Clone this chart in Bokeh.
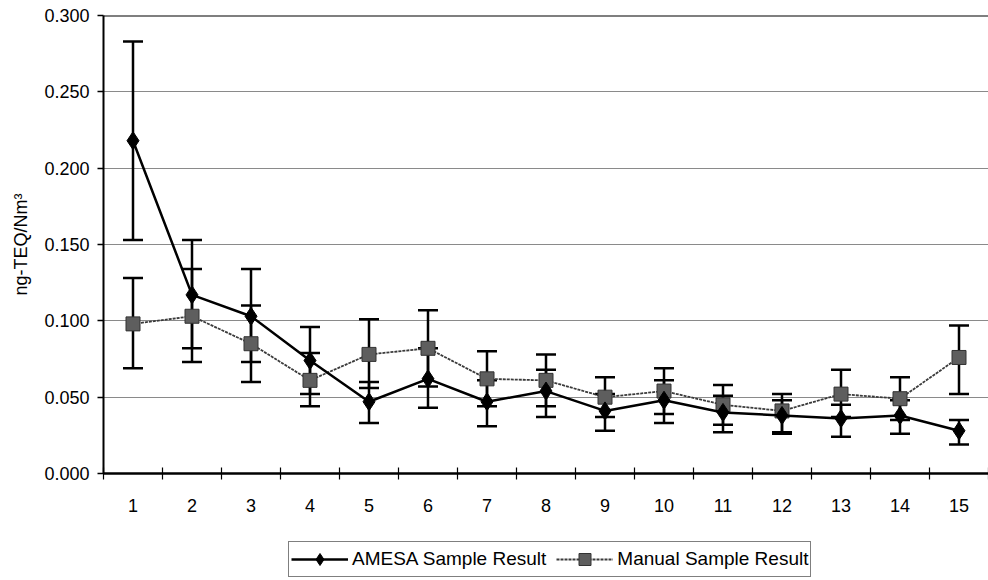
from bokeh.plotting import figure
from bokeh.layouts import column
from bokeh.models import (ColumnDataSource, Whisker, TeeHead, FixedTicker, Legend, LegendItem,
                          Range1d, NumeralTickFormatter, Span)
from bokeh.embed import file_html
from bokeh.resources import INLINE

samples = list(range(1, 16))
x_labels = [str(s) for s in samples]
amesa = [0.218, 0.117, 0.103, 0.074, 0.047, 0.062, 0.047, 0.054, 0.041, 0.048, 0.040, 0.038, 0.036, 0.038, 0.028]
amesa_upper = [0.283, 0.153, 0.134, 0.096, 0.060, 0.082, 0.061, 0.068, 0.052, 0.061, 0.051, 0.048, 0.045, 0.048, 0.035]
amesa_lower = [0.153, 0.082, 0.073, 0.052, 0.033, 0.043, 0.031, 0.037, 0.028, 0.033, 0.027, 0.026, 0.024, 0.026, 0.019]
manual = [0.098, 0.103, 0.085, 0.061, 0.078, 0.082, 0.062, 0.061, 0.050, 0.054, 0.045, 0.041, 0.052, 0.049, 0.076]
manual_upper = [0.128, 0.134, 0.110, 0.079, 0.101, 0.107, 0.080, 0.078, 0.063, 0.069, 0.058, 0.052, 0.068, 0.063, 0.097]
manual_lower = [0.069, 0.073, 0.060, 0.044, 0.056, 0.057, 0.044, 0.044, 0.037, 0.039, 0.032, 0.027, 0.037, 0.035, 0.052]
y_ticks = [0.0, 0.05, 0.10, 0.15, 0.20, 0.25, 0.30]
series_names = ["AMESA Sample Result", "Manual Sample Result"]

FONT = "Liberation Sans"
MAN_LINE = dict(line_color="#3a3a3a", line_width=1.8, line_dash="3 1")
MAN_MARK = dict(marker="square", fill_color="#5e5e5e", line_color="#333333", line_width=1)
AM_LINE = dict(line_color="black", line_width=2.5)
AM_MARK = dict(marker="diamond", fill_color="black", line_color="black")

src_a = ColumnDataSource(dict(x=samples, y=amesa, up=amesa_upper, lo=amesa_lower))
src_m = ColumnDataSource(dict(x=samples, y=manual, up=manual_upper, lo=manual_lower))

p = figure(width=988, height=519, output_backend="svg", toolbar_location=None,
           x_range=Range1d(0.5, 15.5), y_range=Range1d(0, 0.3),
           min_border_left=103, min_border_top=15, min_border_right=0, min_border_bottom=46)
p.outline_line_color = None
p.background_fill_color = "white"
p.border_fill_color = "white"

# grid
p.xgrid.grid_line_color = None
p.ygrid.grid_line_color = "#8a8a8a"
p.ygrid.grid_line_width = 1
p.ygrid.ticker = FixedTicker(ticks=y_ticks)

# y axis
p.yaxis.ticker = FixedTicker(ticks=y_ticks)
p.yaxis.formatter = NumeralTickFormatter(format="0.000")
p.yaxis.axis_label = "ng-TEQ/Nm³"
p.yaxis.axis_label_text_font = FONT
p.yaxis.axis_label_text_font_style = "normal"
p.yaxis.axis_label_text_font_size = "18px"
p.yaxis.axis_label_text_color = "black"
p.yaxis.axis_label_standoff = 10
p.yaxis.major_label_text_font = FONT
p.yaxis.major_label_text_font_size = "18px"
p.yaxis.major_label_text_color = "black"
p.yaxis.major_tick_out = 6
p.yaxis.major_tick_in = 0
p.yaxis.major_label_standoff = 8
p.yaxis.axis_line_width = 2
p.yaxis.axis_line_color = "black"
p.yaxis.major_tick_line_width = 1.5
p.yaxis.minor_tick_line_color = None

# x axis: labels at centres, ticks between categories
p.xaxis.ticker = FixedTicker(ticks=samples, minor_ticks=[s - 0.5 for s in samples] + [15.5])
p.xaxis.major_label_overrides = {s: l for s, l in zip(samples, x_labels)}
p.xaxis.major_tick_line_color = None
p.xaxis.major_tick_out = 6
p.xaxis.major_label_standoff = 19
p.xaxis.minor_tick_in = 6
p.xaxis.minor_tick_out = 6
p.xaxis.minor_tick_line_width = 1.2
p.xaxis.minor_tick_line_color = "black"
p.xaxis.axis_line_width = 2.5
p.xaxis.axis_line_color = "black"
p.xaxis.major_label_text_font = FONT
p.xaxis.major_label_text_font_size = "18px"
p.xaxis.major_label_text_color = "black"

# top border
p.add_layout(Span(location=0.3, dimension="width", line_color="black", line_width=2))

# manual series
wm = Whisker(source=src_m, base="x", upper="up", lower="lo", line_color="black", line_width=2.5,
             upper_head=TeeHead(size=20, line_width=2.5, line_color="black"),
             lower_head=TeeHead(size=20, line_width=2.5, line_color="black"))
p.add_layout(wm)
p.line("x", "y", source=src_m, **MAN_LINE)
p.scatter("x", "y", source=src_m, size=14, **MAN_MARK)

# AMESA series
wa = Whisker(source=src_a, base="x", upper="up", lower="lo", line_color="black", line_width=2.5,
             upper_head=TeeHead(size=20, line_width=2.5, line_color="black"),
             lower_head=TeeHead(size=20, line_width=2.5, line_color="black"))
p.add_layout(wa)
p.line("x", "y", source=src_a, **AM_LINE)
p.scatter("x", "y", source=src_a, size=18, **AM_MARK)

# legend strip below the chart (legend renderers reuse the series data, out of view)
q = figure(width=988, height=61, output_backend="svg", toolbar_location=None,
           x_range=Range1d(-2, -1), y_range=Range1d(-2, -1),
           min_border_left=103, min_border_right=0, min_border_top=0, min_border_bottom=0)
q.axis.visible = False
q.grid.visible = False
q.outline_line_color = None
la = q.line("x", "y", source=src_a, **AM_LINE)
sa = q.scatter("x", "y", source=src_a, size=14, **AM_MARK)
lm = q.line("x", "y", source=src_m, **MAN_LINE)
sm = q.scatter("x", "y", source=src_m, size=12, **MAN_MARK)

legend = Legend(items=[LegendItem(label=series_names[0], renderers=[la, sa]),
                       LegendItem(label=series_names[1], renderers=[lm, sm])],
                orientation="horizontal", location=(185, 3),
                label_text_font=FONT, label_text_font_size="19px", label_text_color="black",
                glyph_width=57, glyph_height=30, label_standoff=4, spacing=10,
                padding=2, margin=0, border_line_color="black", border_line_width=1.2,
                background_fill_alpha=1)
q.add_layout(legend, "center")

open("out.html", "w").write(file_html(column(p, q, spacing=0), INLINE))
